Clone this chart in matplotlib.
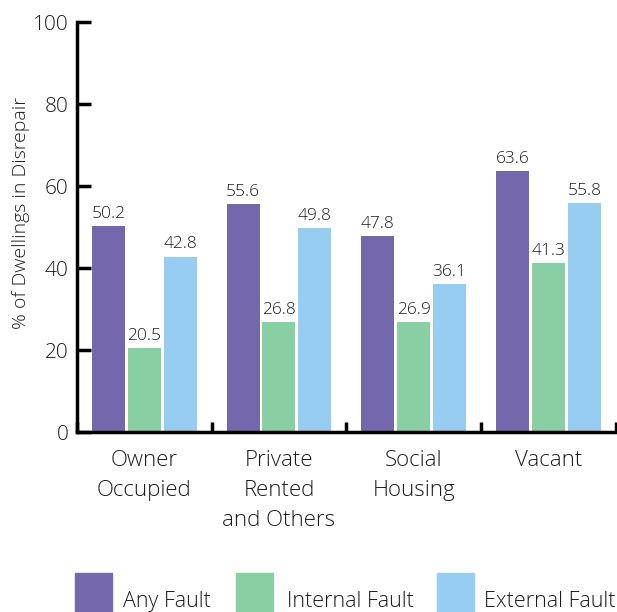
import matplotlib.pyplot as plt
import numpy as np
from matplotlib.patches import Rectangle

plt.rcParams['font.family'] = ['Open Sans', 'DejaVu Sans']
plt.rcParams['font.weight'] = 'light'

tenures = ["Owner\nOccupied", "Private\nRented\nand Others", "Social\nHousing", "Vacant"]
any_fault = [50.2, 55.6, 47.8, 63.6]
internal_fault = [20.5, 26.8, 26.9, 41.3]
external_fault = [42.8, 49.8, 36.1, 55.8]

series = ["Any Fault", "Internal Fault", "External Fault"]
colors = ["#7467ac", "#88cfa4", "#96cdf0"]
text_color = "#1c1c1c"

fig = plt.figure(figsize=(6.17, 6.12), dpi=100)
ax = fig.add_axes([0.1248, 0.294, 0.873, 0.670])

x = np.arange(len(tenures)) + 0.5
width = 0.245
step = 0.267
for i, (vals, col) in enumerate(zip([any_fault, internal_fault, external_fault], colors)):
    pos = x + (i - 1) * step
    bars = ax.bar(pos, vals, width=width, color=col, zorder=2)
    for b, v in zip(bars, vals):
        ax.annotate(f"{v:.1f}", (b.get_x() + b.get_width() / 2, v),
                    xytext=(0, 3), textcoords="offset points",
                    ha="center", va="bottom", fontsize=12.5, color=text_color)

ax.set_xlim(0, len(tenures))
ax.set_ylim(0, 100)
ax.set_yticks(range(0, 101, 20))
ax.set_xticks(range(0, len(tenures) + 1))
ax.set_xticklabels([])
ax.set_xticks(x, minor=True)
ax.set_xticklabels(tenures, minor=True, fontsize=16, color=text_color, linespacing=1.55)

ax.tick_params(axis="y", direction="in", length=10, width=2.5, labelsize=15,
               labelcolor=text_color, pad=6)
ax.tick_params(axis="x", which="major", direction="in", length=7, width=2.5)
ax.tick_params(axis="x", which="minor", length=0, pad=13)

for side in ["top", "right"]:
    ax.spines[side].set_visible(False)
for side in ["left", "bottom"]:
    ax.spines[side].set_linewidth(2.5)

ax.set_ylabel("% of Dwellings in Disrepair", fontsize=14, color=text_color,
              fontweight="light")
ax.yaxis.set_label_coords(-0.087, 0.535)

# legend drawn along the bottom edge
legend_boxes = [0.122, 0.383, 0.708]
legend_texts = [0.199, 0.465, 0.784]
for bx, tx, name, col in zip(legend_boxes, legend_texts, series, colors):
    fig.patches.append(Rectangle((bx, 0.0), 0.060, 0.064, transform=fig.transFigure,
                                 color=col, clip_on=False))
    fig.text(tx, 0.017, name, fontsize=15.5, color=text_color, va="center", ha="left")

plt.savefig("out.png", dpi=100)
